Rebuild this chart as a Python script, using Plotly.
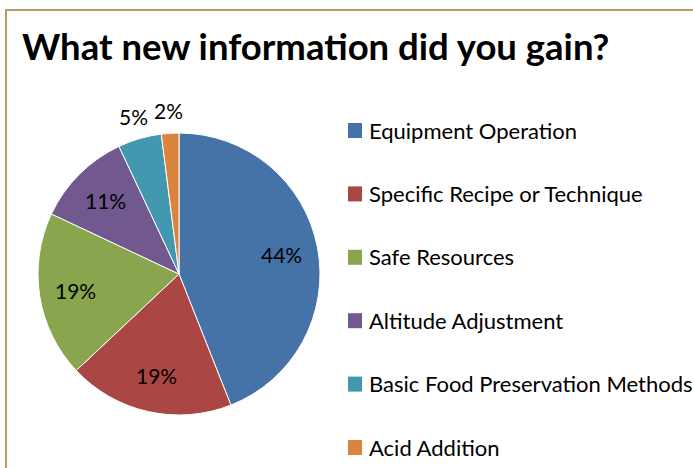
import math
import plotly.graph_objects as go

categories = ["Equipment Operation", "Specific Recipe or Technique", "Safe Resources",
              "Altitude Adjustment", "Basic Food Preservation Methods", "Acid Addition"]
values = [44, 19, 19, 11, 5, 2]
colors = ["#4572A7", "#AA4643", "#89A54E", "#71588F", "#4198AF", "#DB843D"]
title_text = "What new information did you gain?"

W, H = 693, 468
FONT = "Lato"

cx, cy, r = 179, 274, 141

fig = go.Figure(go.Pie(
    labels=categories, values=values, sort=False, direction="clockwise", rotation=0,
    marker=dict(colors=colors, line=dict(color="white", width=1)),
    textinfo="none",
    showlegend=False, hoverinfo="label+percent",
    domain=dict(x=[(cx - r) / W, (cx + r) / W], y=[1 - (cy + r) / H, 1 - (cy - r) / H]),
))

shapes = [dict(type="rect", xref="paper", yref="paper",
               x0=6 / W, x1=1.2, y0=-0.2, y1=1 - 10 / H,
               line=dict(color="#B89B6E", width=2), fillcolor="rgba(0,0,0,0)", layer="below")]
annotations = [dict(text="<b>" + title_text + "</b>", xref="paper", yref="paper",
                    x=20 / W, y=1 - 46 / H, xanchor="left", yanchor="middle", showarrow=False,
                    font=dict(family=FONT, size=36.5, color="black"))]

# percentage labels placed at each slice's mid-angle
total = sum(values)
cum = 0
for v in values:
    mid = (cum + v / 2) / total * 2 * math.pi
    cum += v
    frac = 0.74 if v / total >= 0.08 else 1.16
    px = cx + frac * r * math.sin(mid)
    py = cy - frac * r * math.cos(mid)
    annotations.append(dict(text=f"{round(v / total * 100)}%", xref="paper", yref="paper",
                            x=px / W, y=1 - py / H, xanchor="center", yanchor="middle",
                            showarrow=False, font=dict(family=FONT, size=21, color="black")))

leg_y0, leg_dy = 130, 63.4
for i, (cat, col) in enumerate(zip(categories, colors)):
    yc = leg_y0 + i * leg_dy
    shapes.append(dict(type="rect", xref="paper", yref="paper",
                       x0=348 / W, x1=362 / W, y0=1 - (yc + 8) / H, y1=1 - (yc - 7) / H,
                       line=dict(width=0), fillcolor=col))
    annotations.append(dict(text=cat, xref="paper", yref="paper", x=367 / W, y=1 - yc / H,
                            xanchor="left", yanchor="middle", showarrow=False,
                            font=dict(family=FONT, size=22, color="black")))

fig.update_layout(width=W, height=H, margin=dict(l=0, r=0, t=0, b=0),
                  paper_bgcolor="white", plot_bgcolor="white",
                  shapes=shapes, annotations=annotations)
fig.write_html("out.html", config={"displayModeBar": False},
               post_script="document.body.style.margin='0px';")
